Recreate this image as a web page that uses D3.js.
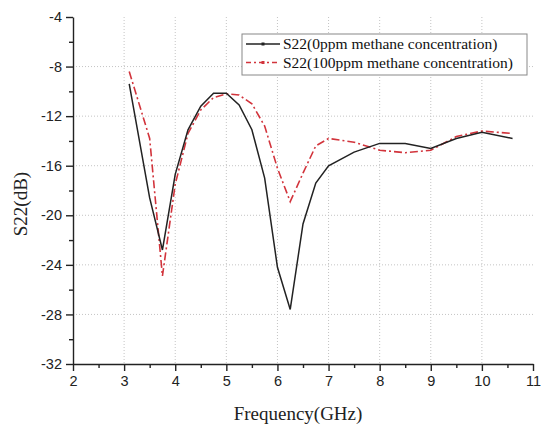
<!doctype html>
<html>
<head>
<meta charset="utf-8" />
<title>S22</title>
<script src="https://cdn.jsdelivr.net/npm/d3@7/dist/d3.min.js"></script>
<style>
	body { margin: 0; background: #fff; }
	svg { display: block; }
	.tick text { font-family: "Liberation Sans", Arial, sans-serif; font-size: 14.5px; fill: #222; }
	.axis path, .axis line { stroke: #222; stroke-width: 1.4; }
	.grid line { stroke: #c4c4c4; stroke-width: 1; stroke-dasharray: 1,2; }
	.title { font-family: "Liberation Serif", "Times New Roman", serif; font-size: 19px; fill: #222; }
	.legend text { font-family: "Liberation Serif", "Times New Roman", serif; font-size: 15.5px; fill: #111; }
</style>
</head>
<body>
<div id="app"></div>
<script>
// frequency points (GHz)
const freq = [3.1, 3.5, 3.75, 4.0, 4.25, 4.5, 4.75, 5.0, 5.25, 5.5, 5.75, 6.0, 6.25, 6.5, 6.75, 7.0, 7.5, 8.0, 8.5, 9.0, 9.5, 10.0, 10.6];
// S22 with 0ppm methane
const s22_0 = [-9.4, -18.6, -22.8, -16.7, -13.1, -11.2, -10.15, -10.15, -11.1, -13.1, -17.0, -24.2, -27.6, -20.7, -17.4, -16.0, -14.9, -14.2, -14.2, -14.6, -13.8, -13.3, -13.8];
// S22 with 100ppm methane
const s22_100 = [-8.4, -13.8, -24.9, -17.5, -13.4, -11.5, -10.5, -10.2, -10.3, -11.0, -12.8, -16.2, -18.9, -16.6, -14.4, -13.8, -14.1, -14.75, -14.95, -14.75, -13.65, -13.2, -13.4];
const seriesNames = ['S22(0ppm methane concentration)', 'S22(100ppm methane concentration)'];
const xTicks = [2, 3, 4, 5, 6, 7, 8, 9, 10, 11];
const yTicks = [-32, -28, -24, -20, -16, -12, -8, -4];

const width = 542, height = 425;
const margin = { left: 73, right: 9, top: 17, bottom: 61 };

const svg = d3.select('#app').append('svg').attr('width', width).attr('height', height);

const x = d3.scaleLinear().domain([2, 11]).range([margin.left, width - margin.right]);
const y = d3.scaleLinear().domain([-32, -4]).range([height - margin.bottom, margin.top]);

// plain hyphen, like the original figure
const fmt = d => String(d);

// grid
const grid = svg.append('g').attr('class', 'grid');
grid.selectAll('line.v').data(xTicks.slice(1, -1)).join('line')
	.attr('class', 'v')
	.attr('x1', d => x(d)).attr('x2', d => x(d))
	.attr('y1', y(-4)).attr('y2', y(-32));
grid.selectAll('line.h').data(yTicks.slice(1, -1)).join('line')
	.attr('class', 'h')
	.attr('x1', x(2)).attr('x2', x(11))
	.attr('y1', d => y(d)).attr('y2', d => y(d));

// minor ticks
const minorX = d3.range(2.5, 11, 1);
const minorY = d3.range(-30, -4, 4);
svg.append('g').attr('class', 'axis')
	.attr('transform', `translate(0,${y(-32)})`)
	.call(d3.axisBottom(x).tickValues(minorX).tickSize(4).tickFormat(''))
	.call(g => g.select('.domain').remove());
svg.append('g').attr('class', 'axis')
	.attr('transform', `translate(${x(2)},0)`)
	.call(d3.axisLeft(y).tickValues(minorY).tickSize(4).tickFormat(''))
	.call(g => g.select('.domain').remove());

// major axes
svg.append('g').attr('class', 'axis')
	.attr('transform', `translate(0,${y(-32)})`)
	.call(d3.axisBottom(x).tickValues(xTicks).tickFormat(fmt).tickSize(7).tickSizeOuter(0).tickPadding(5));
svg.append('g').attr('class', 'axis')
	.attr('transform', `translate(${x(2)},0)`)
	.call(d3.axisLeft(y).tickValues(yTicks).tickFormat(fmt).tickSize(7).tickSizeOuter(0).tickPadding(4));

// titles
svg.append('text').attr('class', 'title')
	.attr('x', 298).attr('y', 420)
	.attr('text-anchor', 'middle')
	.text('Frequency(GHz)');
svg.append('text').attr('class', 'title')
	.attr('transform', 'translate(27,204) rotate(-90)')
	.attr('text-anchor', 'middle')
	.text('S22(dB)');

// lines
const line = d3.line().x(d => x(d[0])).y(d => y(d[1]));
svg.append('path')
	.datum(d3.zip(freq, s22_100))
	.attr('d', line)
	.attr('fill', 'none')
	.attr('stroke', '#d2343c')
	.attr('stroke-width', 1.6)
	.attr('stroke-dasharray', '8,3,2,3');
svg.append('path')
	.datum(d3.zip(freq, s22_0))
	.attr('d', line)
	.attr('fill', 'none')
	.attr('stroke', '#222')
	.attr('stroke-width', 1.5);

// legend
const legend = svg.append('g').attr('class', 'legend').attr('transform', 'translate(242,34)');
legend.append('rect')
	.attr('width', 285).attr('height', 41)
	.attr('fill', '#fff').attr('stroke', '#888').attr('stroke-width', 1);
const styles = [
	{ color: '#222', dash: null },
	{ color: '#d2343c', dash: '5,3,2,3' }
];
seriesNames.forEach((name, i) => {
	const yy = 10 + i * 18.5;
	legend.append('line')
		.attr('x1', 4).attr('x2', 38).attr('y1', yy).attr('y2', yy)
		.attr('stroke', styles[i].color).attr('stroke-width', 1.5)
		.attr('stroke-dasharray', styles[i].dash);
	legend.append('rect')
		.attr('x', 19.5).attr('y', yy - 1.5).attr('width', 3).attr('height', 3)
		.attr('fill', styles[i].color);
	legend.append('text')
		.attr('x', 41).attr('y', yy + 5)
		.text(name);
});
</script>
</body>
</html>
